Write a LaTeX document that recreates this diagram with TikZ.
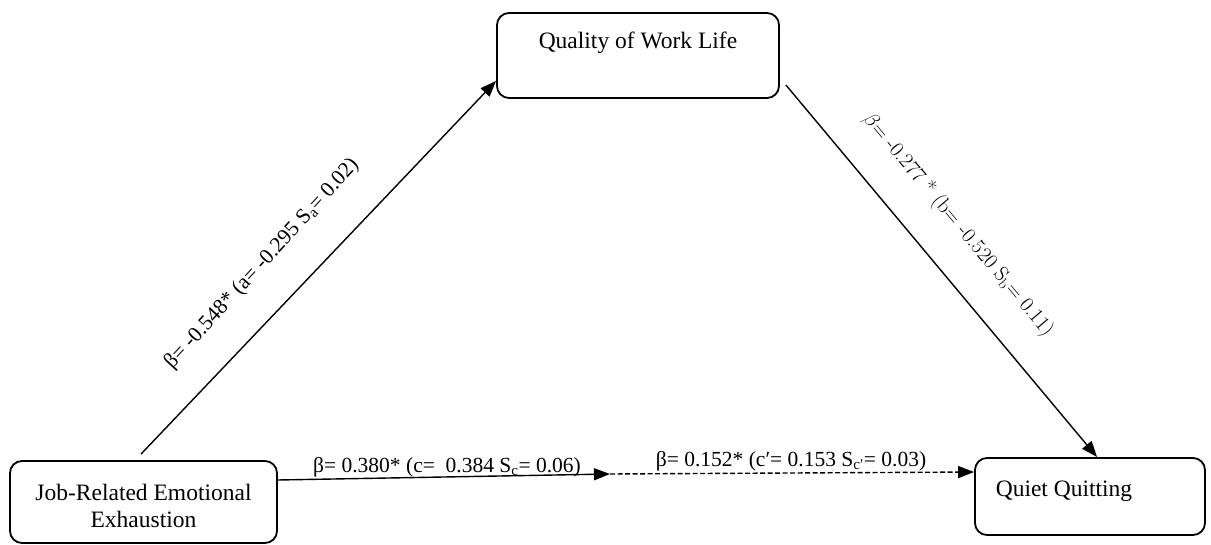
\documentclass[tikz,border=0pt]{standalone}
\usepackage{fontspec}
\setmainfont{Liberation Serif}
\newfontfamily\lmfont{Latin Modern Roman}
\usetikzlibrary{arrows.meta,calc}
\begin{document}
\begin{tikzpicture}[x=1pt,y=-1pt,
  box/.style={draw,line width=1.8pt,rounded corners=12pt,inner sep=0pt},
  boxtext/.style={font=\fontsize{23.5}{27}\selectfont,align=center,inner sep=0pt},
  lab/.style={font=\fontsize{21.5}{25}\selectfont,inner sep=0pt},
  labcm/.style={font=\lmfont\fontsize{21}{25}\selectfont,inner sep=0pt},
  arr/.style={line width=1.4pt,-{Triangle[length=16pt,width=12pt]}}]
\useasboundingbox (0,0) rectangle (1211,545);
% boxes
\node[box,minimum width=282pt,minimum height=85pt] (q) at (638,55.5) {};
\node[boxtext] (qt) at (638,43) {Quality of Work Life};
\node[box,minimum width=267pt,minimum height=82pt] (j) at (143.5,502) {};
\node[boxtext] (jt) at (143.5,506) {Job-Related Emotional\\Exhaustion};
\node[box,minimum width=230pt,minimum height=77pt] (qq) at (1090,496.5) {};
\node[boxtext] (qqt) at (1064,491) {Quiet Quitting};
% connectors
\coordinate (mid) at (610,474);
\draw[arr] ($(j.north)+(-2.5,-6)$) -- ($(q.south west)+(0,-18)$);
\draw[arr] ($(q.east)+(6,29.5)$) -- ($(qq.north west)+(123,0)$);
\draw[arr] ($(j.east)+(0,-22)$) -- (mid);
\draw[arr,dash pattern=on 5pt off 2.5pt] (mid) -- ($(qq.west)+(0,-24.5)$);
% labels
\node[lab,rotate=47.5] (la) at (262,264) {β= -0.548* (a= -0.295 S\textsubscript{a}= 0.02)};
\node[labcm,rotate=-50] (lb) at (958,225) {$\beta$= -0.277 * (b= -0.520 S\textsubscript{b}= 0.11)};
\node[lab] (lc) at (447,467) {β= 0.380* (c=\ \ 0.384 S\textsubscript{c}= 0.06)};
\node[lab] (lcp) at (791,461) {β= 0.152* (c′= 0.153 S\textsubscript{c′}= 0.03)};
\end{tikzpicture}
\end{document}
